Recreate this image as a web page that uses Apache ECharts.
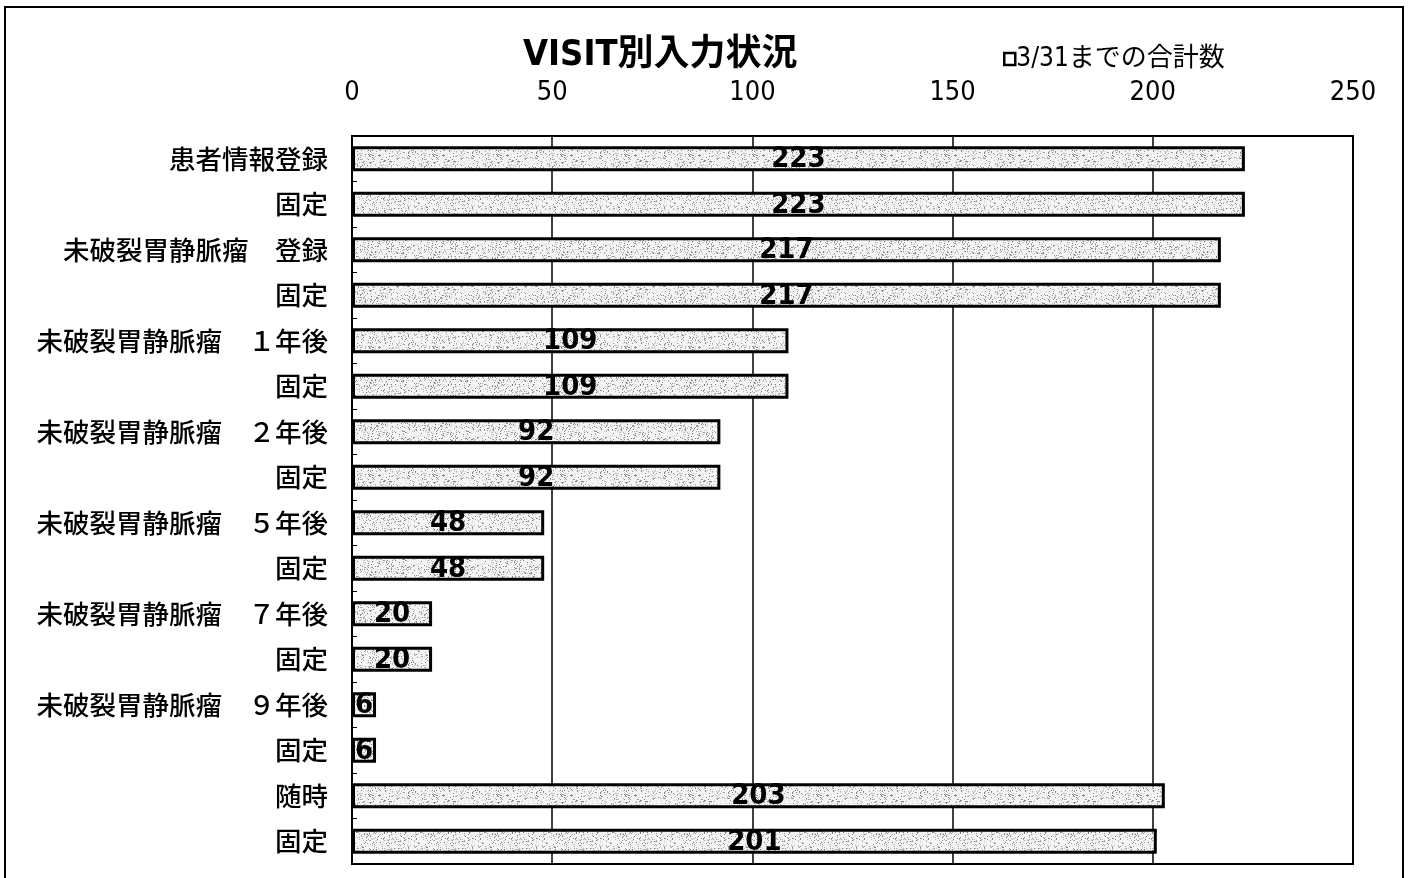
<!DOCTYPE html>
<html>
<head>
<meta charset="utf-8">
<script src="https://cdn.jsdelivr.net/npm/echarts@6/dist/echarts.min.js"></script>
<style>
  html, body { margin: 0; padding: 0; background: #fff; }
  #chart { width: 1411px; height: 878px; }
</style>
</head>
<body>
<div id="chart"></div>
<script>
// Rows of the input-status table, top to bottom
const categories = [
  '患者情報登録', '固定',
  '未破裂胃静脈瘤　登録', '固定',
  '未破裂胃静脈瘤　１年後', '固定',
  '未破裂胃静脈瘤　２年後', '固定',
  '未破裂胃静脈瘤　５年後', '固定',
  '未破裂胃静脈瘤　７年後', '固定',
  '未破裂胃静脈瘤　９年後', '固定',
  '随時', '固定'
];
const totals = [223, 223, 217, 217, 109, 109, 92, 92, 48, 48, 20, 20, 6, 6, 203, 201];
const seriesName = '3/31までの合計数';
const axisTicks = [0, 50, 100, 150, 200, 250];

const NARROW = "'Liberation Sans Narrow', 'DejaVu Sans', 'Noto Sans CJK JP', sans-serif";
const CJK = "'Noto Sans CJK JP', sans-serif";

// Speckled light-grey fill for the bars (fixed-seed dot texture)
function makeSpeckle() {
  const c = document.createElement('canvas');
  c.width = 64; c.height = 64;
  const g = c.getContext('2d');
  g.fillStyle = '#f4f4f4';
  g.fillRect(0, 0, 64, 64);
  let s = 12345;
  const next = () => { s = (s * 1103515245 + 12345) & 0x7fffffff; return s / 0x7fffffff; };
  for (let i = 0; i < 800; i++) {
    const x = Math.floor(next() * 64), y = Math.floor(next() * 64);
    const v = Math.floor(120 + next() * 90);
    g.fillStyle = `rgb(${v},${v},${v})`;
    g.fillRect(x, y, 1, 1);
  }
  return c;
}
const speckle = { image: makeSpeckle(), repeat: 'repeat' };

const chart = echarts.init(document.getElementById('chart'), null, { renderer: 'canvas' });
chart.setOption({
  backgroundColor: '#fff',
  animation: false,
  title: {
    text: 'VISIT別入力状況',
    left: 518,
    top: 33,
    textStyle: { fontFamily: NARROW, fontSize: 36, fontStyle: 'normal', fontWeight: 'bold condensed', color: '#000' }
  },
  legend: {
    left: 998,
    top: 41,
    icon: 'rect',
    itemWidth: 11,
    itemHeight: 12,
    itemGap: 2,
    itemStyle: { color: '#fff', borderColor: '#000', borderWidth: 2.5 },
    textStyle: { fontFamily: NARROW, fontSize: 26, fontStyle: 'normal', fontWeight: 'normal condensed', color: '#000', padding: [0, 0, 0, -4] },
    data: [seriesName]
  },
  grid: { left: 352, right: 58, top: 136, bottom: 14, containLabel: false },
  xAxis: {
    type: 'value',
    position: 'top',
    min: axisTicks[0],
    max: axisTicks[axisTicks.length - 1],
    interval: 50,
    axisLine: { show: true, lineStyle: { color: '#000', width: 2 } },
    axisTick: { show: false },
    axisLabel: { margin: 30, fontFamily: NARROW, fontSize: 27, fontStyle: 'normal', fontWeight: 'normal condensed', color: '#000' },
    splitLine: { show: true, lineStyle: { color: '#000', width: 1.5 } }
  },
  yAxis: {
    type: 'category',
    inverse: true,
    data: categories,
    axisLine: { show: true, lineStyle: { color: '#000', width: 2 } },
    axisTick: { show: true, inside: true, length: 5, lineStyle: { color: '#000', width: 1 } },
    axisLabel: { margin: 24, fontFamily: CJK, fontSize: 26.5, fontWeight: 500, color: '#000' }
  },
  series: [{
    name: seriesName,
    type: 'bar',
    data: totals,
    barWidth: 25,
    itemStyle: { color: speckle, borderColor: '#000', borderWidth: 3 },
    label: {
      show: true,
      position: 'inside',
      offset: [0, 1],
      fontFamily: NARROW,
      fontSize: 29,
      fontStyle: 'normal',
      fontWeight: 'bold condensed',
      color: '#000'
    }
  }],
  graphic: [
    // plot frame and outer chart border
    { type: 'rect', shape: { x: 352, y: 136, width: 1001, height: 728 },
      style: { fill: 'none', stroke: '#000', lineWidth: 2 }, z: 10, silent: true },
    { type: 'rect', shape: { x: 5, y: 7, width: 1398, height: 880 },
      style: { fill: 'none', stroke: '#000', lineWidth: 2 }, z: 10, silent: true }
  ]
});
</script>
</body>
</html>
